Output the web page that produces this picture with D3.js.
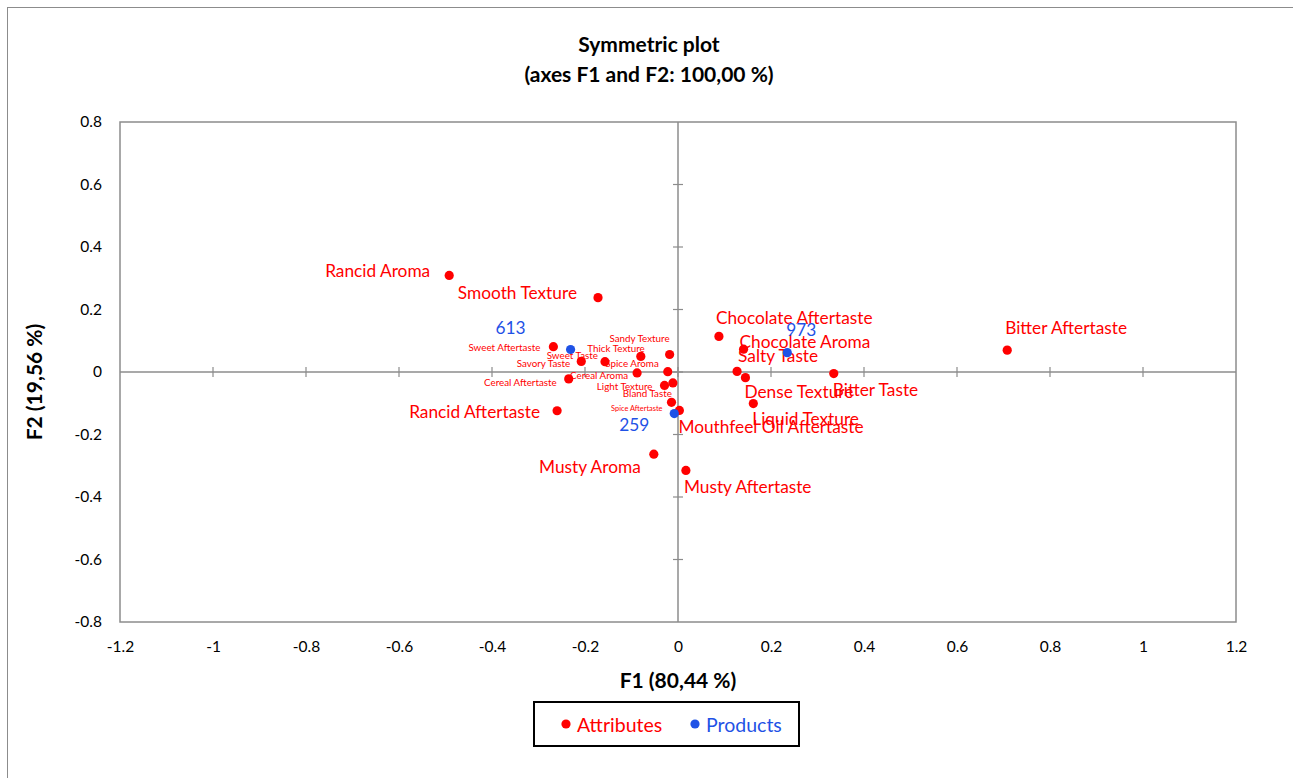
<!DOCTYPE html>
<html>
<head>
<meta charset="utf-8">
<script src="https://cdn.jsdelivr.net/npm/d3@7"></script>
<style>
  html, body { margin: 0; padding: 0; background: #fff; }
  svg { display: block; font-family: Lato, "Open Sans", sans-serif; }
</style>
</head>
<body>
<svg id="chart" width="1293" height="778"></svg>
<script>
// ---------- DATA ----------
const attributeNames = [
  "Rancid Aroma", "Smooth Texture", "Chocolate Aftertaste", "Chocolate Aroma",
  "Salty Taste", "Dense Texture", "Bitter Taste", "Liquid Texture",
  "Mouthfeel Oil Aftertaste", "Bitter Aftertaste", "Musty Aroma", "Musty Aftertaste",
  "Rancid Aftertaste", "Sweet Aftertaste", "Sweet Taste", "Savory Taste",
  "Spice Aroma", "Thick Texture", "Sandy Texture", "Cereal Aroma",
  "Cereal Aftertaste", "Light Texture", "Bland Taste", "Spice Aftertaste"
];
const attributeF1 = [
  -0.492, -0.172, 0.088, 0.141,
  0.127, 0.145, 0.335, 0.162,
  0.003, 0.708, -0.052, 0.017,
  -0.260, -0.268, -0.157, -0.208,
  -0.022, -0.080, -0.018, -0.088,
  -0.235, -0.029, -0.011, -0.014
];
const attributeF2 = [
  0.309, 0.238, 0.114, 0.073,
  0.002, -0.018, -0.005, -0.101,
  -0.123, 0.070, -0.263, -0.315,
  -0.124, 0.081, 0.033, 0.034,
  0.001, 0.050, 0.056, -0.003,
  -0.022, -0.043, -0.035, -0.097
];
const productNames = ["613", "259", "973"];
const productF1 = [-0.231, -0.008, 0.235];
const productF2 = [0.072, -0.133, 0.062];

const xTickValues = [-1.2, -1, -0.8, -0.6, -0.4, -0.2, 0, 0.2, 0.4, 0.6, 0.8, 1, 1.2];
const yTickValues = [-0.8, -0.6, -0.4, -0.2, 0, 0.2, 0.4, 0.6, 0.8];

const chartTitle = ["Symmetric plot", "(axes F1 and F2: 100,00 %)"];
const xTitle = "F1 (80,44 %)";
const yTitle = "F2 (19,56 %)";
const legendItems = ["Attributes", "Products"];

// ---------- LABEL PLACEMENT (pixel offsets from the point, style only) ----------
const labelPlacement = {
  "Rancid Aroma": [-19, -5, "end", "L"],
  "Smooth Texture": [-21, -5, "end", "L"],
  "Chocolate Aftertaste": [-3, -19, "start", "L"],
  "Chocolate Aroma": [-4, -8, "start", "L"],
  "Salty Taste": [1, -16, "start", "L"],
  "Dense Texture": [-1, 14, "start", "L"],
  "Bitter Taste": [-1, 16, "start", "L"],
  "Liquid Texture": [-1, 15, "start", "L"],
  "Mouthfeel Oil Aftertaste": [-1, 16, "start", "L"],
  "Bitter Aftertaste": [-2, -23, "start", "L"],
  "Musty Aroma": [-13, 12, "end", "L"],
  "Musty Aftertaste": [-2, 16, "start", "L"],
  "Rancid Aftertaste": [-17, 1, "end", "L"],
  "Sweet Aftertaste": [-13, 0, "end", "S"],
  "Sweet Taste": [-7, -7, "end", "S"],
  "Savory Taste": [-11, 2, "end", "S"],
  "Spice Aroma": [-9, -9, "end", "S"],
  "Thick Texture": [4, -8, "end", "S"],
  "Sandy Texture": [0, -17, "end", "S"],
  "Cereal Aroma": [-9, 2, "end", "S"],
  "Cereal Aftertaste": [-12, 3, "end", "S"],
  "Light Texture": [-12, 1, "end", "S"],
  "Bland Taste": [-1, 10, "end", "S"],
  "Spice Aftertaste": [-9, 6, "end", "XS"],
  "613": [-45, -22, "end", "L"],
  "259": [-25, 11, "end", "L"],
  "973": [-1, -23, "start", "L"]
};
const labelSizes = { L: 17.3, S: 9.8, XS: 7.4 };

// ---------- STYLE ----------
const RED = "#ff0000";
const BLUE = "#1f52e6";
const GRAY = "#8c8c8c";

const svg = d3.select("#chart");
const plot = { left: 120, top: 122, right: 1236, bottom: 622 };

// outer chart border
svg.append("rect")
  .attr("x", 7.5).attr("y", 7.5)
  .attr("width", 1300).attr("height", 800)
  .attr("fill", "none").attr("stroke", GRAY).attr("stroke-width", 1);

const x = d3.scaleLinear().domain([-1.2, 1.2]).range([plot.left, plot.right]);
const y = d3.scaleLinear().domain([-0.8, 0.8]).range([plot.bottom, plot.top]);

// plot frame
svg.append("rect")
  .attr("x", plot.left).attr("y", plot.top)
  .attr("width", plot.right - plot.left).attr("height", plot.bottom - plot.top)
  .attr("fill", "none").attr("stroke", GRAY).attr("stroke-width", 1.5);

const fmt = d => String(+(+d).toFixed(1));

// tick labels via d3 axes
const xAxis = d3.axisBottom(x).tickValues(xTickValues).tickSize(0).tickPadding(19).tickFormat(fmt);
const gx = svg.append("g").attr("transform", `translate(0,${plot.bottom})`).call(xAxis);
gx.select(".domain").remove();
gx.selectAll("text").attr("font-size", 15.5).attr("fill", "#000").attr("font-family", "Lato, sans-serif");

const yAxis = d3.axisLeft(y).tickValues(yTickValues).tickSize(0).tickPadding(18).tickFormat(fmt);
const gy = svg.append("g").attr("transform", `translate(${plot.left},0)`).call(yAxis);
gy.select(".domain").remove();
gy.selectAll("text").attr("font-size", 15.5).attr("fill", "#000").attr("font-family", "Lato, sans-serif");

// center axes lines
svg.append("line")
  .attr("x1", plot.left).attr("x2", plot.right)
  .attr("y1", y(0)).attr("y2", y(0))
  .attr("stroke", GRAY).attr("stroke-width", 1.5);
svg.append("line")
  .attr("x1", x(0)).attr("x2", x(0))
  .attr("y1", plot.top).attr("y2", plot.bottom)
  .attr("stroke", GRAY).attr("stroke-width", 1.5);

// cross ticks on the center axes
svg.append("g").selectAll("line")
  .data(xTickValues.filter(v => v > -1.2 && v < 1.2))
  .join("line")
  .attr("x1", d => x(d)).attr("x2", d => x(d))
  .attr("y1", y(0) - 5).attr("y2", y(0) + 5)
  .attr("stroke", GRAY).attr("stroke-width", 1.2);
svg.append("g").selectAll("line")
  .data(yTickValues.filter(v => v > -0.8 && v < 0.8))
  .join("line")
  .attr("x1", x(0) - 5).attr("x2", x(0) + 5)
  .attr("y1", d => y(d)).attr("y2", d => y(d))
  .attr("stroke", GRAY).attr("stroke-width", 1.2);

// data
const attributes = attributeNames.map((n, i) => ({ name: n, f1: attributeF1[i], f2: attributeF2[i], color: RED }));
const products = productNames.map((n, i) => ({ name: n, f1: productF1[i], f2: productF2[i], color: BLUE }));
const all = attributes.concat(products);

// labels
svg.append("g").selectAll("text")
  .data(all)
  .join("text")
  .attr("x", d => x(d.f1) + labelPlacement[d.name][0])
  .attr("y", d => y(d.f2) + labelPlacement[d.name][1])
  .attr("text-anchor", d => labelPlacement[d.name][2])
  .attr("dominant-baseline", "central")
  .attr("font-size", d => labelSizes[labelPlacement[d.name][3]])
  .attr("fill", d => d.color)
  .text(d => d.name);

// points
svg.append("g").selectAll("circle")
  .data(attributes)
  .join("circle")
  .attr("cx", d => x(d.f1)).attr("cy", d => y(d.f2))
  .attr("r", 4.6).attr("fill", RED);
svg.append("g").selectAll("circle")
  .data(products)
  .join("circle")
  .attr("cx", d => x(d.f1)).attr("cy", d => y(d.f2))
  .attr("r", 4.6).attr("fill", BLUE);

// titles
svg.append("text")
  .attr("x", 649).attr("y", 43)
  .attr("text-anchor", "middle").attr("dominant-baseline", "central")
  .attr("font-size", 21).attr("font-weight", "bold")
  .text(chartTitle[0]);
svg.append("text")
  .attr("x", 649).attr("y", 73)
  .attr("text-anchor", "middle").attr("dominant-baseline", "central")
  .attr("font-size", 21).attr("font-weight", "bold")
  .text(chartTitle[1]);

svg.append("text")
  .attr("x", (plot.left + plot.right) / 2).attr("y", 679)
  .attr("text-anchor", "middle").attr("dominant-baseline", "central")
  .attr("font-size", 21).attr("font-weight", "bold")
  .text(xTitle);

svg.append("text")
  .attr("transform", `translate(33,382) rotate(-90)`)
  .attr("text-anchor", "middle").attr("dominant-baseline", "central")
  .attr("font-size", 21).attr("font-weight", "bold")
  .text(yTitle);

// legend
const legend = svg.append("g");
legend.append("rect")
  .attr("x", 534).attr("y", 702)
  .attr("width", 265).attr("height", 44)
  .attr("fill", "#fff").attr("stroke", "#000").attr("stroke-width", 2);
const legendColors = [RED, BLUE];
const legendX = [566, 695];
legend.selectAll("circle.leg")
  .data(legendItems)
  .join("circle")
  .attr("class", "leg")
  .attr("cx", (d, i) => legendX[i]).attr("cy", 724)
  .attr("r", 4.6).attr("fill", (d, i) => legendColors[i]);
legend.selectAll("text.leg")
  .data(legendItems)
  .join("text")
  .attr("class", "leg")
  .attr("x", (d, i) => legendX[i] + 11).attr("y", 724)
  .attr("dominant-baseline", "central")
  .attr("font-size", 19.5)
  .attr("fill", (d, i) => legendColors[i])
  .text(d => d);
</script>
</body>
</html>
